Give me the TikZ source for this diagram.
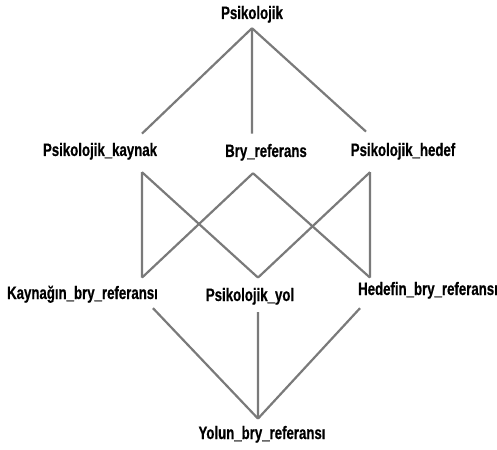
\documentclass[tikz,border=0pt]{standalone}
\usepackage{fontspec}
\setmainfont{Liberation Sans}[FakeStretch=0.735,FakeBold=0.6]
\usepackage{tikz}
\usetikzlibrary{positioning}
\definecolor{edgegray}{RGB}{122,122,122}

\begin{document}
\begin{tikzpicture}[
  x=1bp, y=-1bp,
  font=\fontsize{18bp}{21bp}\selectfont\bfseries,
  term/.style={anchor=base, inner sep=0pt, text height=13.1bp, text depth=3.8bp},
  edge/.style={draw=edgegray, line width=2.2bp}
]
  \useasboundingbox (0,0) rectangle (497,450);

  % top
  \node[term] (psi) at (252,19) {Psikolojik};

  % middle row
  \node[term] (kaynak) at (100,156) {Psikolojik\_kaynak};
  \node[term] (bry) at (266,157) {Bry\_referans};
  \node[term] (hedef) at (403,156) {Psikolojik\_hedef};

  % lower row
  \node[term] (kbr) at (82.5,299) {Kayna\u{g}\i n\_bry\_referans\i};
  \node[term] (yol) at (250,301) {Psikolojik\_yol};
  \node[term] (hbr) at (428,295) {Hedefin\_bry\_referans\i};

  % bottom
  \node[term] (yolun) at (262,439) {Yolun\_bry\_referans\i};

  \draw[edge] ([yshift=-5.2bp]psi.south) -- ([xshift=42bp,yshift=9.1bp]kaynak.north);
  \draw[edge] ([yshift=-5.2bp]psi.south) -- ([xshift=-14bp,yshift=10.1bp]bry.north);
  \draw[edge] ([yshift=-5.2bp]psi.south) -- ([xshift=-37bp,yshift=11.1bp]hedef.north);

  \draw[edge] ([xshift=42bp,yshift=-12.2bp]kaynak.south) -- ([xshift=59.5bp,yshift=8.1bp]kbr.north);
  \draw[edge] ([xshift=42bp,yshift=-12.2bp]kaynak.south) -- ([xshift=8bp,yshift=10.1bp]yol.north);
  \draw[edge] ([xshift=-13bp,yshift=-12.2bp]bry.south) -- ([xshift=59.5bp,yshift=8.1bp]kbr.north);
  \draw[edge] ([xshift=-13bp,yshift=-12.2bp]bry.south) -- ([xshift=-58bp,yshift=4.1bp]hbr.north);
  \draw[edge] ([xshift=-33bp,yshift=-12.2bp]hedef.south) -- ([xshift=8bp,yshift=10.1bp]yol.north);
  \draw[edge] ([xshift=-33bp,yshift=-12.2bp]hedef.south) -- ([xshift=-58bp,yshift=4.1bp]hbr.north);

  \draw[edge] ([xshift=70.5bp,yshift=-5.2bp]kbr.south) -- ([xshift=-4bp,yshift=7.1bp]yolun.north);
  \draw[edge] ([xshift=8bp,yshift=-7.2bp]yol.south) -- ([xshift=-4bp,yshift=7.1bp]yolun.north);
  \draw[edge] ([xshift=-68bp,yshift=-9.2bp]hbr.south) -- ([xshift=-4bp,yshift=7.1bp]yolun.north);
\end{tikzpicture}
\end{document}
